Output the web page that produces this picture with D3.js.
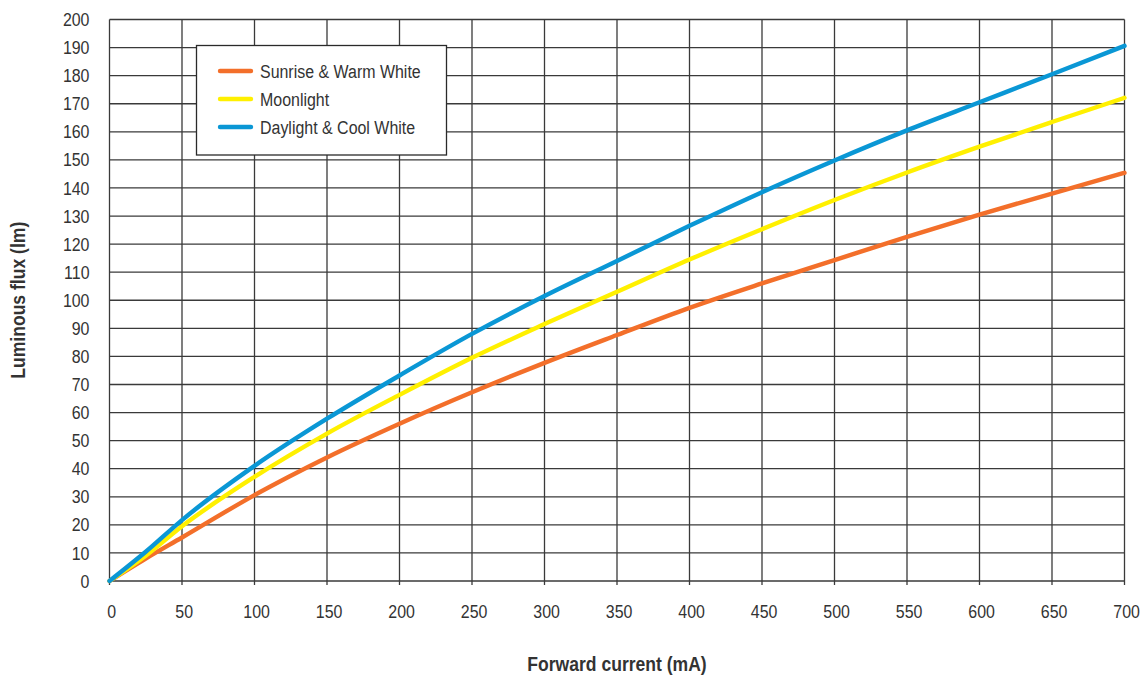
<!DOCTYPE html>
<html><head><meta charset="utf-8">
<script src="https://cdn.jsdelivr.net/npm/d3@7"></script>
<style>
html,body{margin:0;padding:0;background:#fff;}
text{font-family:"Liberation Sans Narrow","Arial Narrow","Liberation Sans",Arial,sans-serif;fill:#333;}
</style></head><body>
<svg id="chart" width="1145" height="675"></svg>
<script>
const currents = [0, 25, 50, 100, 150, 200, 250, 300, 350, 400, 450, 500, 550, 600, 650, 700];
const sunriseWarm = [0, 8, 15.5, 30.6, 44, 56, 67.2, 77.7, 87.6, 97.3, 106, 114.3, 122.6, 130.5, 138, 145.4];
const moonlight   = [0, 9, 19.5, 37.1, 52.5, 66.3, 79.5, 91.5, 103, 114.5, 125.3, 135.7, 145.5, 154.7, 163.5, 172.1];
const daylightCool= [0, 10.4, 21.7, 41, 57.8, 73.2, 88, 101.5, 114, 126.5, 138.5, 149.8, 160.5, 170.5, 180.5, 190.6];
const seriesNames = ["Sunrise & Warm White", "Moonlight", "Daylight & Cool White"];
const seriesColors = ["#f36f2a", "#fff000", "#0a97d5"];
const xTicks = [0,50,100,150,200,250,300,350,400,450,500,550,600,650,700];
const yTicks = d3.range(0, 201, 10);
const xTitle = "Forward current (mA)";
const yTitle = "Luminous flux (lm)";

const K = 0.84; // horizontal condensing to mimic a narrow typeface
const KT = 0.9;
function condense(sel, k){
  k = k || K;
  sel.each(function(){
    const t = d3.select(this);
    const tx = +t.attr("x") || 0, ty = +t.attr("y") || 0;
    const prev = t.attr("transform") || "";
    t.attr("x",0).attr("y",0).attr("transform", `${prev} translate(${tx},${ty}) scale(${k},1)`);
  });
}

const svg = d3.select("#chart");
const m = {left:109.5, right:1124.5, top:19.5, bottom:581};
const x = d3.scaleLinear().domain([0,700]).range([m.left, m.right]);
const y = d3.scaleLinear().domain([0,200]).range([m.bottom, m.top]);

const grid = svg.append("g").attr("stroke","#3a3a3a").attr("stroke-width",1.3);
grid.selectAll(".h").data(yTicks).join("line")
  .attr("x1", m.left).attr("x2", m.right)
  .attr("y1", d=>y(d)).attr("y2", d=>y(d));
grid.selectAll(".v").data(xTicks).join("line")
  .attr("y1", m.top).attr("y2", m.bottom + 4)
  .attr("x1", d=>x(d)).attr("x2", d=>x(d));

const yAxis = d3.axisLeft(y).tickValues(yTicks).tickSize(0).tickPadding(20);
const gy = svg.append("g").attr("transform",`translate(${m.left},0)`).call(yAxis);
gy.select(".domain").remove();
gy.attr("font-family",null).attr("font-size",null);
gy.selectAll("text").attr("font-size",19).attr("fill","#333").call(condense);

const xAxis = d3.axisBottom(x).tickValues(xTicks).tickSize(0).tickPadding(23);
const gx = svg.append("g").attr("transform",`translate(0,${m.bottom})`).call(xAxis);
gx.select(".domain").remove();
gx.attr("font-family",null).attr("font-size",null);
gx.selectAll("text").attr("font-size",19).attr("fill","#333").attr("dx",2).call(condense);

const data = [sunriseWarm, moonlight, daylightCool];
const line = d3.line().x((d,i)=>x(currents[i])).y(d=>y(d)).curve(d3.curveMonotoneX);
svg.append("g").selectAll("path").data(data).join("path")
  .attr("d", line).attr("fill","none")
  .attr("stroke",(d,i)=>seriesColors[i]).attr("stroke-width",4.4)
  .attr("stroke-linecap","round").attr("stroke-linejoin","round");

const lg = svg.append("g");
lg.append("rect").attr("x",196.5).attr("y",45.5).attr("width",250).attr("height",109.5)
  .attr("fill","#fff").attr("stroke","#2a2a2a").attr("stroke-width",1.3);
seriesNames.forEach((n,i)=>{
  const yy = 71 + i*28;
  lg.append("line").attr("x1",220).attr("x2",251).attr("y1",yy).attr("y2",yy)
    .attr("stroke",seriesColors[i]).attr("stroke-width",4.4).attr("stroke-linecap","round");
  lg.append("text").attr("x",260).attr("y",yy).attr("dy","0.35em").attr("font-size",19).text(n).call(condense);
});

svg.append("text").attr("x",(m.left+m.right)/2).attr("y",671).attr("text-anchor","middle")
  .attr("font-size",19.5).attr("font-weight","bold").text(xTitle).call(condense, KT);
svg.append("text").attr("transform",`translate(25,${(m.top+m.bottom)/2}) rotate(-90) scale(${KT},1)`)
  .attr("text-anchor","middle").attr("font-size",19.5).attr("font-weight","bold").text(yTitle);
</script>
</body></html>
